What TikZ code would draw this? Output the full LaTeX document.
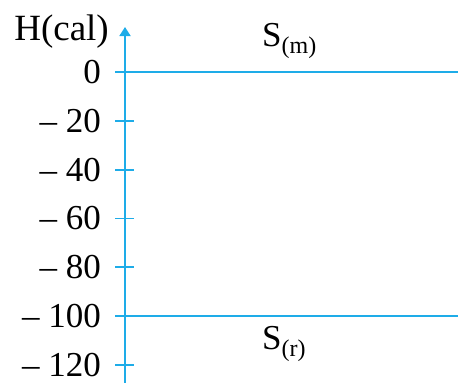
\documentclass[tikz,border=0pt]{standalone}
\usepackage{fontspec}
\setmainfont{Liberation Serif}
\usepackage{tikz}
\usetikzlibrary{arrows.meta}

\definecolor{axisblue}{RGB}{30,172,232}
\tikzset{
  axisline/.style={draw=axisblue, line width=1.8pt},
  ticklab/.style={anchor=east, inner sep=0pt, font=\fontsize{35}{40}\selectfont},
  statelab/.style={inner sep=0pt, font=\fontsize{35}{40}\selectfont}
}
\newcommand{\subtxt}[1]{\raisebox{-7pt}{\fontsize{24}{27}\selectfont #1}}

\begin{document}
\begin{tikzpicture}[x=1pt, y=-1pt, >={Triangle[length=9pt,width=11pt]}]
    \useasboundingbox (0,0) rectangle (458,383);

    % axis
    \coordinate (bot) at (125,383);
    \coordinate (top) at (125,27);
    \draw[axisline,->] (bot) -- (top);
    \node[statelab, anchor=base east, font=\fontsize{37}{42}\selectfont] (hcal) at (109,40) {H(cal)};

    % ticks and labels
    \foreach \v/\lab in {0/0, 20/-- 20, 40/-- 40, 60/-- 60, 80/-- 80, 100/-- 100, 120/-- 120} {
        \coordinate (tl\v) at (115,{72+2.44*\v});
        \coordinate (tr\v) at (134,{72+2.44*\v});
        \draw[axisline] (tl\v) -- (tr\v);
        \node[ticklab] (t\v) at (101,{72+2.44*\v}) {\lab};
    }

    % levels
    \coordinate (m1) at (115,72);
    \coordinate (m2) at (458,72);
    \coordinate (r1) at (115,316);
    \coordinate (r2) at (458,316);
    \draw[axisline] (m1) -- (m2);
    \draw[axisline] (r1) -- (r2);

    \node[statelab, anchor=base west] (sm) at (262,46) {S\subtxt{(m)}};
    \node[statelab, anchor=base west] (sr) at (262,349) {S\subtxt{(r)}};
\end{tikzpicture}
\end{document}
